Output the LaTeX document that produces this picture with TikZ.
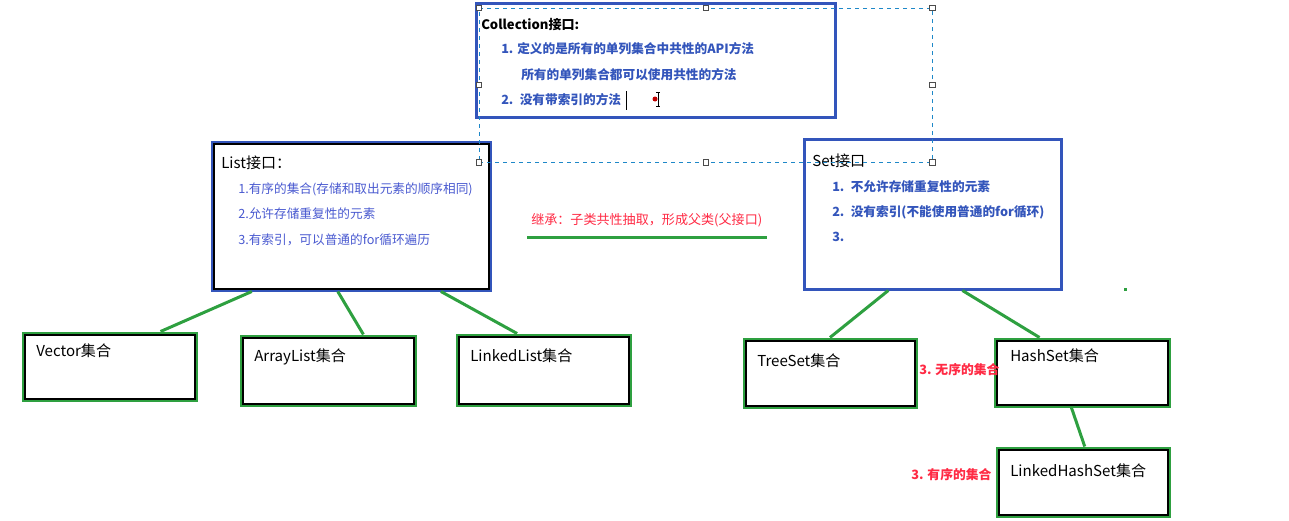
\documentclass[tikz,border=0pt]{standalone}
\usepackage{fontspec}
\setmainfont{Noto Sans CJK SC}
\usetikzlibrary{fit,calc}
\definecolor{boxblue}{HTML}{3355BB}
\definecolor{txtblue}{HTML}{4A5AD0}
\definecolor{linkgreen}{HTML}{2EA040}
\definecolor{notered}{HTML}{FF2A44}
\definecolor{selblue}{HTML}{1E88C8}

\begin{document}
\begin{tikzpicture}[x=0.75pt,y=-0.75pt]

\tikzset{bluebox/.style = {draw=boxblue,line width=2.25pt,inner sep=0pt}}
\tikzset{greenbox/.style = {draw=linkgreen,line width=2.25pt,inner sep=0pt}}
\tikzset{inner/.style = {draw=black,line width=1.5pt}}
\tikzset{link/.style = {linkgreen,line width=2.25pt}}
\tikzset{txt/.style = {anchor=west,inner sep=0pt,font=\fontsize{9.5pt}{11pt}\selectfont}}
\tikzset{title/.style = {txt,font=\fontsize{11.3pt}{13pt}\selectfont}}
\tikzset{point/.style = {txt,text=boxblue,font=\fontsize{9.5pt}{11pt}\selectfont\bfseries}}
\tikzset{listpoint/.style = {txt,text=txtblue}}
\tikzset{note/.style = {txt,text=notered,font=\fontsize{9.6pt}{11pt}\selectfont\bfseries}}
\tikzset{sel/.style = {draw=selblue,dashed,line width=0.6pt,inner sep=0pt}}
\tikzset{handle/.style = {draw=black!70,fill=white,line width=0.5pt,minimum size=4pt,inner sep=0pt}}

\useasboundingbox (0,0) rectangle (1289,521);

%interfaces
\node[bluebox, fit={(476,3) (835,117)}] (coll) {};
\node[bluebox, fit={(212,142) (490,290)}] (list) {};
\draw[inner] ([shift={(3,3)}]list.north west) rectangle ([shift={(-3,-3)}]list.south east);
\node[bluebox, fit={(804,139) (1061,289)}] (set) {};

%interface texts
\node[txt, font=\fontsize{9.8pt}{11pt}\selectfont\bfseries] (colltitle) at (481,25) {Collection接口:};
\node[point] (c1) at (501,49) {1. 定义的是所有的单列集合中共性的API方法};
\node[point] (c2) at (521,75) {所有的单列集合都可以使用共性的方法};
\node[point] (c3) at (501,100) {2.\enspace 没有带索引的方法};
\node[title] (listtitle) at (221,163) {List接口：};
\node[listpoint] (l1) at (238,189) {1.有序的集合(存储和取出元素的顺序相同)};
\node[listpoint] (l2) at (238,214) {2.允许存储重复性的元素};
\node[listpoint] (l3) at (238,240) {3.有索引，可以普通的for循环遍历};
\node[title] (settitle) at (812,161) {Set接口};
\node[point] (s1) at (832,187) {1.\enspace 不允许存储重复性的元素};
\node[point] (s2) at (832,212) {2.\enspace 没有索引(不能使用普通的for循环)};
\node[point] (s3) at (832,237) {3.};

%inheritance note
\node[txt, text=notered, font=\fontsize{9.8pt}{11pt}\selectfont] (inherit) at (531,220) {继承：子类共性抽取，形成父类(父接口)};
\coordinate (u1) at (527,237);
\coordinate (u2) at (767,237);
\draw[link] (u1) -- (u2);

%collections
\node[greenbox, fit={(23,333) (196,400)}] (vec) {};
\node[greenbox, fit={(241,336) (415,405)}] (arr) {};
\node[greenbox, fit={(457,335) (630,405)}] (lnk) {};
\node[greenbox, fit={(744,339) (916,407)}] (tree) {};
\node[greenbox, fit={(995,339) (1169,406)}] (hash) {};
\node[greenbox, fit={(997,448) (1169,516)}] (lhs) {};
\foreach \n in {vec,arr,lnk,tree,hash,lhs}
  \draw[inner] ([shift={(3,3)}]\n.north west) rectangle ([shift={(-3,-3)}]\n.south east);

\node[title] (vect) at (36,351) {Vector集合};
\node[title] (arrt) at (254,357) {ArrayList集合};
\node[title] (lnkt) at (470,356) {LinkedList集合};
\node[title] (treet) at (757,361) {TreeSet集合};
\node[title] (hasht) at (1010,356) {HashSet集合};
\node[title] (lhst) at (1010,471) {LinkedHashSet集合};

\node[note] (unordered) at (919,370) {3. 无序的集合};
\node[note] (ordered) at (911,475) {3. 有序的集合};

%edges
\draw[link] ($(list.south west)!.147!(list.south east)$) -- ($(vec.north west)!.79!(vec.north east)$);
\draw[link] ($(list.south west)!.453!(list.south east)$) -- ($(arr.north west)!.70!(arr.north east)$);
\draw[link] ($(list.south west)!.82!(list.south east)$) -- ($(lnk.north west)!.35!(lnk.north east)$);
\draw[link] ($(set.south west)!.33!(set.south east)$) -- ($(tree.north west)!.5!(tree.north east)$);
\draw[link] ($(set.south west)!.615!(set.south east)$) -- ($(hash.north west)!.26!(hash.north east)$);
\draw[link] ($(hash.south west)!.44!(hash.south east)$) -- ($(lhs.north west)!.51!(lhs.north east)$);

%selection frame and cursor
\node[sel, fit={(479,8) (932,162)}] (frame) {};
\foreach \a in {north west,north,north east,east,south east,south,south west,west}
  \node[handle] at (frame.\a) {};
\draw[black, line width=0.75pt] (626,91) -- (626,110);
\fill[red!75!black] (655,99) circle (2.5);
\draw[black, line width=0.6pt] (658,92) -- (658,106) (656,92) -- (660,92) (656,106) -- (660,106);
\fill[linkgreen] (1124,288) rectangle (1127,291);
\end{tikzpicture}
\end{document}
